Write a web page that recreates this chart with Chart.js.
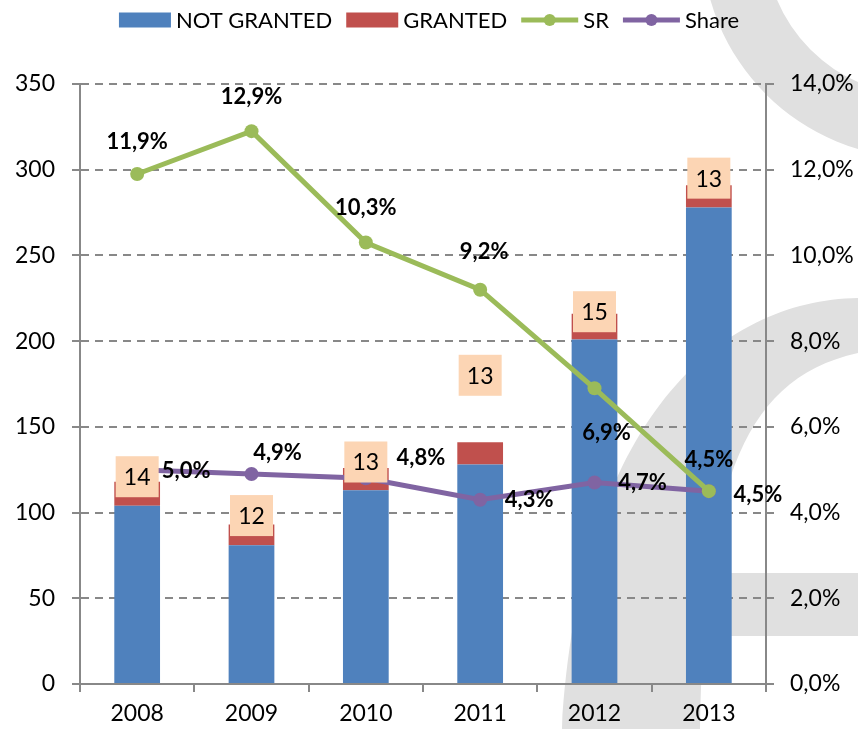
<!DOCTYPE html>
<html>
<head>
<meta charset="utf-8">
<script src="https://cdn.jsdelivr.net/npm/chart.js@4/dist/chart.umd.min.js"></script>
<style>
  html, body { margin: 0; padding: 0; background: #fff; }
  canvas { display: block; }
</style>
</head>
<body>
<canvas id="chart" width="858" height="729"></canvas>
<script>
const YEARS = ['2008', '2009', '2010', '2011', '2012', '2013'];
const NOT_GRANTED = [104, 81, 113, 128, 201, 278];
const GRANTED = [14, 12, 13, 13, 15, 13];
const SR = [11.9, 12.9, 10.3, 9.2, 6.9, 4.5];
const SHARE = [5.0, 4.9, 4.8, 4.3, 4.7, 4.5];

const LEGEND_LABELS = ['NOT GRANTED', 'GRANTED', 'SR', 'Share'];

const COLORS = {
    blue: '#4F81BD',
    red: '#C0504D',
    green: '#9BBB59',
    purple: '#8064A2',
    peach: '#FCD5B4',
    axis: '#888888',
    mark: '#e0e0e0'
};

const FONT = 'Lato, "Open Sans", sans-serif';

// label placement (px, relative to the mark)
const BOX_DY = [-5, -9, -6, -67, -2, -7];
const SR_OFFSETS = [[0, -32], [0, -34], [0, -35], [4, -38], [12, 45], [0, -31]];
const SHARE_OFFSETS = [[49, 1], [26, -21], [55, -20], [49, 0], [48, 0], [49, 4]];

const pct = v => v.toFixed(1).replace('.', ',') + '%';

// grey logo in the background
const watermark = {
    id: 'watermark',
    beforeDraw(chart) {
        const ctx = chart.ctx;
        ctx.save();
        ctx.fillStyle = '#fff';
        ctx.fillRect(0, 0, chart.width, chart.height);
        ctx.fillStyle = COLORS.mark;

        ctx.beginPath();
        ctx.arc(920, -60, 218, 0, Math.PI * 2);
        ctx.arc(920, -60, 155, 0, Math.PI * 2, true);
        ctx.fill();

        ctx.beginPath();
        ctx.moveTo(858, 298);
        ctx.bezierCurveTo(720, 300, 580, 420, 562, 729);
        ctx.lineTo(700, 729);
        ctx.bezierCurveTo(705, 500, 735, 380, 858, 353);
        ctx.closePath();
        ctx.fill();

        ctx.fillRect(700, 573, 158, 63);
        ctx.restore();
    }
};

const labels = {
    id: 'labels',
    afterDatasetsDraw(chart) {
        const ctx = chart.ctx;
        const x = chart.scales.x, y = chart.scales.y, y1 = chart.scales.y1;
        ctx.save();
        ctx.textAlign = 'center';
        ctx.textBaseline = 'middle';

        ctx.font = '23px ' + FONT;
        YEARS.forEach((yr, i) => {
            const cx = x.getPixelForValue(i);
            const cy = y.getPixelForValue(NOT_GRANTED[i] + GRANTED[i]) + BOX_DY[i];
            ctx.fillStyle = COLORS.peach;
            ctx.fillRect(cx - 21.5, cy - 20.5, 43, 41);
            ctx.fillStyle = '#000';
            ctx.fillText(String(GRANTED[i]), cx, cy + 1);
        });

        ctx.font = 'bold 22px ' + FONT;
        ctx.fillStyle = '#000';
        SR.forEach((v, i) => {
            const px = x.getPixelForValue(i), py = y1.getPixelForValue(v);
            ctx.fillText(pct(v), px + SR_OFFSETS[i][0], py + SR_OFFSETS[i][1]);
        });
        SHARE.forEach((v, i) => {
            const px = x.getPixelForValue(i), py = y1.getPixelForValue(v);
            ctx.fillText(pct(v), px + SHARE_OFFSETS[i][0], py + SHARE_OFFSETS[i][1]);
        });
        ctx.restore();
    }
};

const legend = {
    id: 'customLegend',
    afterDraw(chart) {
        const ctx = chart.ctx;
        ctx.save();
        ctx.font = '22px ' + FONT;
        ctx.textBaseline = 'middle';
        const swatch = [52, 52, 57, 57];
        const items = chart.data.datasets.map((ds, i) => ({
            ds, text: LEGEND_LABELS[i], sw: swatch[i],
            w: swatch[i] + 5 + ctx.measureText(LEGEND_LABELS[i]).width
        }));
        const gap = 14;
        const total = items.reduce((s, it) => s + it.w, 0) + gap * (items.length - 1);
        let lx = (chart.width - total) / 2;
        const ly = 20;
        items.forEach(it => {
            if (it.ds.type === 'line') {
                ctx.strokeStyle = it.ds.borderColor;
                ctx.lineWidth = 5;
                ctx.beginPath();
                ctx.moveTo(lx, ly);
                ctx.lineTo(lx + it.sw, ly);
                ctx.stroke();
                ctx.fillStyle = it.ds.borderColor;
                ctx.beginPath();
                ctx.arc(lx + it.sw / 2, ly, 6, 0, Math.PI * 2);
                ctx.fill();
            } else {
                ctx.fillStyle = it.ds.backgroundColor;
                ctx.fillRect(lx, ly - 7.5, it.sw, 15);
            }
            ctx.fillStyle = '#000';
            ctx.fillText(it.text, lx + it.sw + 5, ly + 1);
            lx += it.w + gap;
        });
        ctx.restore();
    }
};

const tickFont = { family: FONT, size: 23 };

new Chart(document.getElementById('chart'), {
    data: {
        labels: YEARS,
        datasets: [
            {
                type: 'bar',
                label: 'NOT GRANTED',
                data: NOT_GRANTED,
                backgroundColor: COLORS.blue,
                yAxisID: 'y',
                order: 2,
                barPercentage: 0.4,
                categoryPercentage: 1
            },
            {
                type: 'bar',
                label: 'GRANTED',
                data: GRANTED,
                backgroundColor: COLORS.red,
                yAxisID: 'y',
                order: 2,
                barPercentage: 0.4,
                categoryPercentage: 1
            },
            {
                type: 'line',
                label: 'SR',
                data: SR,
                borderColor: COLORS.green,
                backgroundColor: COLORS.green,
                borderWidth: 5,
                pointRadius: 7,
                pointBorderWidth: 0,
                pointBackgroundColor: COLORS.green,
                yAxisID: 'y1',
                order: 1
            },
            {
                type: 'line',
                label: 'Share',
                data: SHARE,
                borderColor: COLORS.purple,
                backgroundColor: COLORS.purple,
                borderWidth: 5,
                pointRadius: 7,
                pointBorderWidth: 0,
                pointBackgroundColor: COLORS.purple,
                yAxisID: 'y1',
                order: 1
            }
        ]
    },
    options: {
        responsive: false,
        animation: false,
        devicePixelRatio: 1,
        layout: { padding: { top: 84, left: 0, right: 0, bottom: 0 } },
        plugins: {
            legend: { display: false },
            tooltip: { enabled: false }
        },
        scales: {
            x: {
                stacked: true,
                grid: { drawOnChartArea: false, color: COLORS.axis, lineWidth: 2, tickLength: 8, offset: true },
                border: { color: COLORS.axis, width: 2 },
                ticks: { font: tickFont, color: '#000', padding: 8 },
                afterFit: s => { s.height = 45; }
            },
            y: {
                stacked: true,
                position: 'left',
                min: 0,
                max: 350,
                ticks: { stepSize: 50, font: tickFont, color: '#000', padding: 17 },
                grid: { color: COLORS.axis, lineWidth: 2, tickLength: 8 },
                border: { color: COLORS.axis, width: 2, dash: [8, 6] },
                afterFit: s => { s.width = 80; }
            },
            y1: {
                position: 'right',
                min: 0,
                max: 14,
                ticks: { stepSize: 2, font: tickFont, color: '#000', padding: 16, callback: v => pct(v) },
                grid: { drawOnChartArea: false, color: COLORS.axis, lineWidth: 2, tickLength: 8 },
                border: { color: COLORS.axis, width: 2 },
                afterFit: s => { s.width = 92; }
            }
        }
    },
    plugins: [watermark, labels, legend]
});
</script>
</body>
</html>
